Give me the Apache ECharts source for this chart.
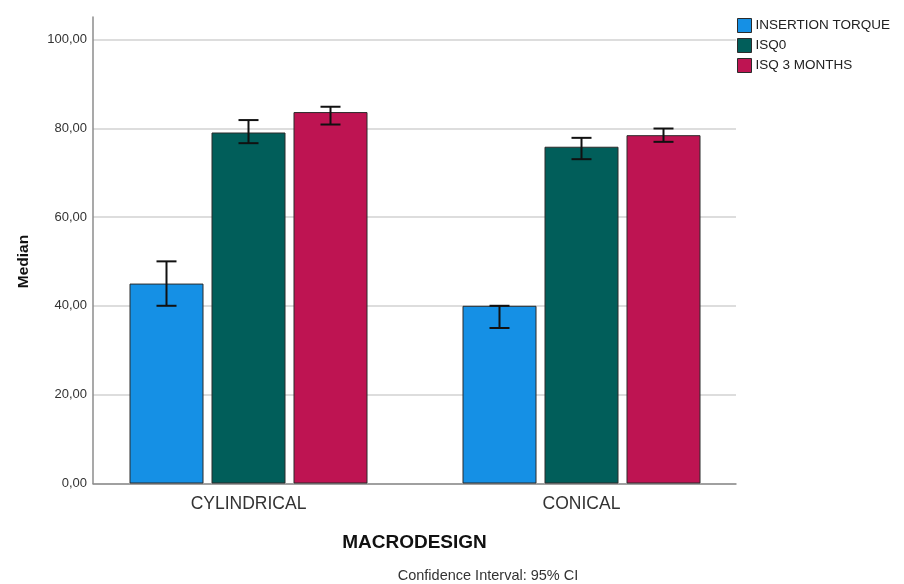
<!DOCTYPE html>
<html>
<head>
<meta charset="utf-8">
<script src="https://cdn.jsdelivr.net/npm/echarts@6/dist/echarts.min.js"></script>
<style>
  html, body { margin: 0; padding: 0; background: #fff; }
  #chart { width: 904px; height: 584px; }
</style>
</head>
<body>
<div id="chart"></div>
<script>
// Medians with 95% confidence intervals per implant macrodesign
const categories = ['CYLINDRICAL', 'CONICAL'];
const seriesNames = ['INSERTION TORQUE', 'ISQ0', 'ISQ 3 MONTHS'];

const torqueMedian = [45, 40];
const torqueLow = [40, 35];
const torqueHigh = [50, 40];

const isq0Median = [79, 75.8];
const isq0Low = [76.6, 73];
const isq0High = [81.8, 77.8];

const isq3Median = [83.6, 78.4];
const isq3Low = [80.8, 76.9];
const isq3High = [84.8, 79.9];

const yTicks = [0, 20, 40, 60, 80, 100];

const medians = [torqueMedian, isq0Median, isq3Median];
const lows = [torqueLow, isq0Low, isq3Low];
const highs = [torqueHigh, isq0High, isq3High];
const colors = ['#1590E5', '#015E5A', '#BE1452'];

const BAR_WIDTH = 74;
const BAR_GAP = 8;
const CAP = 20;
const FONT = 'Liberation Sans, Arial, sans-serif';

const chart = echarts.init(document.getElementById('chart'), null, { renderer: 'canvas' });

const fmt = v => v.toFixed(2).replace('.', ',');

const barSeries = seriesNames.map((name, i) => ({
  name: name,
  type: 'bar',
  xAxisIndex: 1,
  yAxisIndex: 1,
  barWidth: BAR_WIDTH,
  barGap: (BAR_GAP / BAR_WIDTH * 100) + '%',
  itemStyle: { color: colors[i], borderColor: '#2b2b2b', borderWidth: 1 },
  emphasis: { disabled: true },
  data: medians[i]
}));

const errorSeries = seriesNames.map((name, i) => ({
  type: 'custom',
  xAxisIndex: 1,
  yAxisIndex: 1,
  z: 5,
  silent: true,
  data: categories.map((c, k) => [k, lows[i][k], highs[i][k]]),
  renderItem: function (params, api) {
    const off = (i - 1) * (BAR_WIDTH + BAR_GAP);
    const x = api.coord([api.value(0), 0])[0] + off;
    const yLo = api.coord([api.value(0), api.value(1)])[1];
    const yHi = api.coord([api.value(0), api.value(2)])[1];
    const style = { stroke: '#111', lineWidth: 2 };
    return {
      type: 'group',
      children: [
        { type: 'line', shape: { x1: x, y1: yLo, x2: x, y2: yHi }, style: style },
        { type: 'line', shape: { x1: x - CAP / 2, y1: yLo, x2: x + CAP / 2, y2: yLo }, style: style },
        { type: 'line', shape: { x1: x - CAP / 2, y1: yHi, x2: x + CAP / 2, y2: yHi }, style: style }
      ]
    };
  }
}));

const option = {
  animation: false,
  textStyle: { fontFamily: FONT },
  title: {
    text: 'Confidence Interval: 95% CI',
    left: 488,
    top: 568,
    textAlign: 'center',
    padding: 0,
    textStyle: { fontSize: 14.5, fontWeight: 'normal', color: '#333', fontFamily: FONT }
  },
  legend: {
    data: seriesNames,
    orient: 'vertical',
    left: 737,
    top: 18,
    padding: 0,
    itemWidth: 14,
    itemHeight: 14,
    itemGap: 5,
    icon: 'rect',
    itemStyle: { borderColor: '#2b2b2b', borderWidth: 1 },
    textStyle: { fontSize: 13.5, color: '#222', padding: [0, 0, 0, -1], fontFamily: FONT }
  },
  grid: [
    // frame: axis lines and labels
    { left: 93, right: 168, top: 17, bottom: 100.5 },
    // bars
    { left: 82, right: 156, top: 17, bottom: 100.5 },
    // horizontal gridlines up to 100
    { left: 93, right: 168, top: 39.5, bottom: 100.5 }
  ],
  xAxis: [
    {
      gridIndex: 0, type: 'category', data: categories,
      axisLine: { show: true, lineStyle: { color: '#8c8c8c', width: 1.5 } },
      axisTick: { show: false }, axisLabel: { show: false }, splitLine: { show: false },
      name: 'MACRODESIGN', nameLocation: 'middle', nameGap: 50,
      nameTextStyle: { fontSize: 19, fontWeight: 'bold', color: '#111', fontFamily: FONT }
    },
    {
      gridIndex: 1, type: 'category', data: categories,
      axisLine: { show: false }, axisTick: { show: false },
      axisLabel: { fontSize: 17.5, color: '#333', margin: 12, fontFamily: FONT }
    },
    {
      gridIndex: 2, type: 'category', data: categories, show: false
    }
  ],
  yAxis: [
    {
      gridIndex: 0, type: 'value', min: 0, max: 105, interval: 20,
      axisLine: { show: true, lineStyle: { color: '#8c8c8c', width: 1.5 } },
      axisTick: { show: false },
      splitLine: { show: false },
      axisLabel: {
        fontSize: 13, color: '#333', margin: 6, fontFamily: FONT,
        formatter: v => (yTicks.indexOf(v) >= 0 ? fmt(v) : '')
      }
    },
    {
      gridIndex: 1, type: 'value', min: 0, max: 105, show: false
    },
    {
      gridIndex: 2, type: 'value', min: 0, max: 100, interval: 20,
      axisLine: { show: false }, axisTick: { show: false }, axisLabel: { show: false },
      splitLine: { show: true, lineStyle: { color: '#d2d2d2', width: 1.5 } },
      name: 'Median', nameLocation: 'middle', nameGap: 61, nameRotate: 90,
      nameTextStyle: { fontSize: 15.5, fontWeight: 'bold', color: '#111', fontFamily: FONT }
    }
  ],
  series: barSeries.concat(errorSeries)
};

chart.setOption(option);
</script>
</body>
</html>
